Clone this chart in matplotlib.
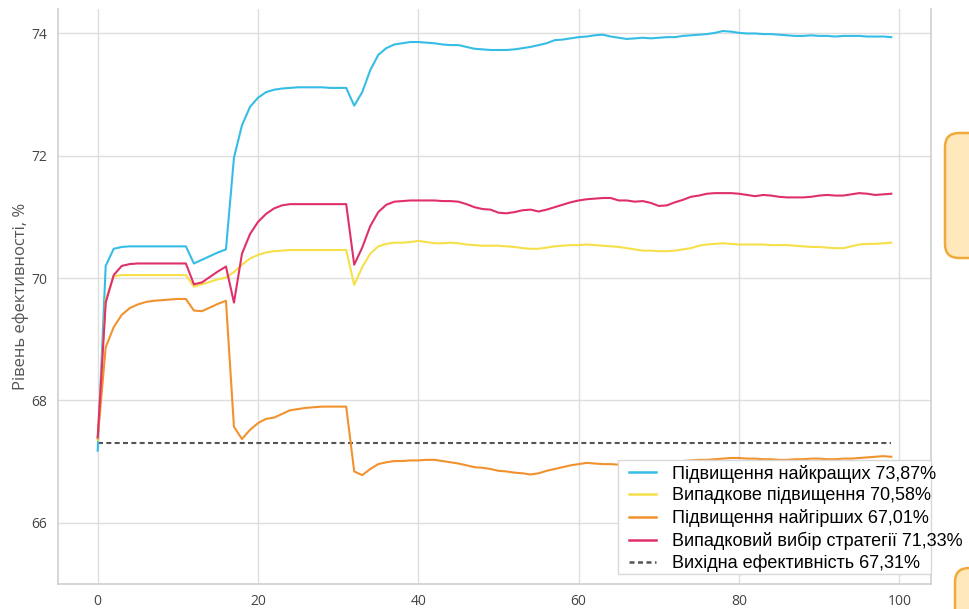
import matplotlib
matplotlib.use("Agg")
import matplotlib.pyplot as plt
import matplotlib.patches as mpatches
from matplotlib.transforms import IdentityTransform
from matplotlib.lines import Line2D
import numpy as np


# ------------------------------
# Data
# ------------------------------
iterations = list(range(100))

best_up = [
    67.18, 70.20, 70.48, 70.51, 70.52, 70.52, 70.52, 70.52, 70.52, 70.52,
    70.52, 70.52, 70.24, 70.30, 70.36, 70.42, 70.47, 71.97, 72.50, 72.80,
    72.95, 73.04, 73.08, 73.10, 73.11, 73.12, 73.12, 73.12, 73.12, 73.11,
    73.11, 73.11, 72.82, 73.04, 73.40, 73.65, 73.76, 73.82, 73.84, 73.86,
    73.86, 73.85, 73.84, 73.82, 73.81, 73.81, 73.78, 73.75, 73.74, 73.73,
    73.73, 73.73, 73.74, 73.76, 73.78, 73.81, 73.84, 73.89, 73.90, 73.92,
    73.94, 73.95, 73.97, 73.98, 73.95, 73.93, 73.91, 73.92, 73.93, 73.92,
    73.93, 73.94, 73.94, 73.96, 73.97, 73.98, 73.99, 74.01, 74.04, 74.03,
    74.01, 74.00, 74.00, 73.99, 73.99, 73.98, 73.97, 73.96, 73.96, 73.97,
    73.96, 73.96, 73.95, 73.96, 73.96, 73.96, 73.95, 73.95, 73.95, 73.94,
]

random_up = [
    67.35, 69.65, 70.03, 70.05, 70.05, 70.05, 70.05, 70.05, 70.05, 70.05,
    70.05, 70.05, 69.86, 69.90, 69.94, 69.98, 70.01, 70.10, 70.22, 70.32,
    70.38, 70.42, 70.44, 70.45, 70.46, 70.46, 70.46, 70.46, 70.46, 70.46,
    70.46, 70.46, 69.89, 70.18, 70.40, 70.52, 70.56, 70.58, 70.58, 70.59,
    70.61, 70.59, 70.57, 70.57, 70.58, 70.57, 70.55, 70.54, 70.53, 70.53,
    70.53, 70.52, 70.51, 70.49, 70.48, 70.48, 70.50, 70.52, 70.53, 70.54,
    70.54, 70.55, 70.54, 70.53, 70.52, 70.51, 70.49, 70.47, 70.45, 70.45,
    70.44, 70.44, 70.45, 70.47, 70.49, 70.53, 70.55, 70.56, 70.57, 70.56,
    70.55, 70.55, 70.55, 70.55, 70.54, 70.54, 70.54, 70.53, 70.52, 70.51,
    70.51, 70.50, 70.49, 70.49, 70.52, 70.55, 70.56, 70.56, 70.57, 70.58,
]

worst_up = [
    67.38, 68.87, 69.20, 69.40, 69.51, 69.57, 69.61, 69.63, 69.64, 69.65,
    69.66, 69.66, 69.47, 69.46, 69.52, 69.58, 69.63, 67.57, 67.37, 67.52,
    67.63, 67.70, 67.72, 67.78, 67.84, 67.86, 67.88, 67.89, 67.90, 67.90,
    67.90, 67.90, 66.84, 66.78, 66.88, 66.96, 66.99, 67.01, 67.01, 67.02,
    67.02, 67.03, 67.03, 67.01, 66.99, 66.97, 66.94, 66.91, 66.90, 66.88,
    66.85, 66.84, 66.82, 66.81, 66.79, 66.81, 66.85, 66.88, 66.91, 66.94,
    66.96, 66.98, 66.97, 66.96, 66.96, 66.95, 66.96, 66.97, 66.97, 66.98,
    66.99, 67.00, 67.00, 67.01, 67.02, 67.03, 67.03, 67.04, 67.05, 67.06,
    67.06, 67.05, 67.05, 67.04, 67.04, 67.03, 67.03, 67.04, 67.04, 67.05,
    67.05, 67.04, 67.04, 67.05, 67.05, 67.06, 67.07, 67.08, 67.09, 67.08,
]

random_strategy = [
    67.40, 69.60, 70.05, 70.20, 70.23, 70.24, 70.24, 70.24, 70.24, 70.24,
    70.24, 70.24, 69.90, 69.93, 70.02, 70.11, 70.19, 69.60, 70.40, 70.72,
    70.92, 71.05, 71.14, 71.19, 71.21, 71.21, 71.21, 71.21, 71.21, 71.21,
    71.21, 71.21, 70.22, 70.50, 70.85, 71.08, 71.20, 71.25, 71.26, 71.27,
    71.27, 71.27, 71.27, 71.26, 71.26, 71.25, 71.21, 71.16, 71.13, 71.12,
    71.07, 71.06, 71.08, 71.11, 71.12, 71.09, 71.12, 71.16, 71.20, 71.24,
    71.27, 71.29, 71.30, 71.31, 71.31, 71.27, 71.27, 71.25, 71.26, 71.23,
    71.18, 71.19, 71.24, 71.28, 71.33, 71.35, 71.38, 71.39, 71.39, 71.39,
    71.38, 71.36, 71.34, 71.36, 71.35, 71.33, 71.32, 71.32, 71.32, 71.33,
    71.35, 71.36, 71.35, 71.35, 71.37, 71.39, 71.38, 71.36, 71.37, 71.38,
]

baseline = 67.31

labels = [
    "Підвищення найкращих 73,87%",
    "Випадкове підвищення 70,58%",
    "Підвищення найгірших 67,01%",
    "Випадковий вибір стратегії 71,33%",
    "Вихідна ефективність 67,31%",
]
colors = ["#36bde6", "#f5e04a", "#f2922e", "#e0306a", "#555555"]

x_ticks = [0, 20, 40, 60, 80, 100]
y_ticks = [66, 68, 70, 72, 74]

# ------------------------------
# Figure
# ------------------------------
W, H = 970, 609
fig = plt.figure(figsize=(W / 100, H / 100), dpi=100, facecolor="white")
ax = fig.add_axes([58 / W, 1 - 584 / H, (931 - 58) / W, (584 - 9) / H])
ax.set_facecolor("white")

series = [best_up, random_up, worst_up, random_strategy]
for vals, col in zip(series, colors[:4]):
    ax.plot(iterations, vals, color=col, lw=1.5, zorder=3)
ax.plot([iterations[0], iterations[-1]], [baseline, baseline],
        color=colors[4], lw=1.5, dashes=(2.4, 1.6), zorder=2)

ax.set_xlim(-4.95, 103.95)
ax.set_ylim(65, 74.4)
ax.set_xticks(x_ticks)
ax.set_yticks(y_ticks)
ax.grid(True, color="#dedede", lw=1.0, zorder=0)
ax.set_axisbelow(True)
ax.tick_params(length=0, labelsize=10, labelcolor="#444444")
ax.tick_params(axis="y", pad=8)
ax.tick_params(axis="x", pad=7)
for lab in ax.get_xticklabels() + ax.get_yticklabels():
    lab.set_fontfamily("Open Sans")
for side in ["left", "bottom", "right"]:
    ax.spines[side].set_color("#cfcfcf")
    ax.spines[side].set_linewidth(1.2)
ax.spines["top"].set_visible(False)
ax.set_ylabel("Рівень ефективності, %", fontsize=12, color="#555555",
              fontfamily="Open Sans", labelpad=1)

# legend: white box behind, text overflowing to the right like in the slide
box = mpatches.Rectangle((618, H - 574), 931 - 618, 574 - 460,
                         transform=IdentityTransform(), facecolor="white",
                         edgecolor="#d8d8d8", lw=1.0, zorder=4)
fig.patches.append(box)

handles = [Line2D([], [], color=c, lw=1.8) for c in colors[:4]]
handles.append(Line2D([], [], color=colors[4], lw=1.8, dashes=(2.0, 1.4)))
leg = fig.legend(handles, labels, loc="upper left",
                 bbox_to_anchor=(616 / W, 1 - 452 / H), frameon=False,
                 prop={"family": "Liberation Sans", "size": 13},
                 handlelength=1.5, handletextpad=0.9, labelspacing=0.26,
                 borderpad=0.2)
leg.set_zorder(5)

# orange callout boxes at the slide edge
for (x0, y0, w, h) in [(945, 133, 60, 125), (955, 568, 60, 60)]:
    callout = mpatches.FancyBboxPatch(
        (x0, H - y0 - h), w, h, boxstyle="round,pad=0,rounding_size=14",
        transform=IdentityTransform(), facecolor="#ffe8bb",
        edgecolor="#f0a93a", lw=1.8, zorder=6)
    fig.patches.append(callout)

fig.savefig("out.png", dpi=100, facecolor="white")
